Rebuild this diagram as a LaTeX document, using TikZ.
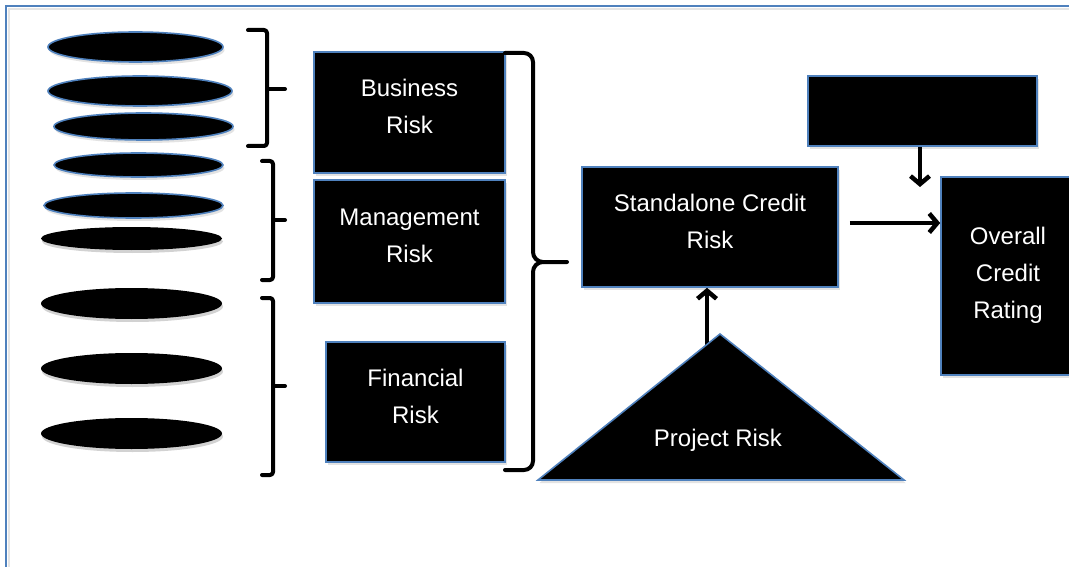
\documentclass[tikz,border=0pt]{standalone}
\usepackage{fontspec}
\setmainfont{Liberation Sans}
\usetikzlibrary{arrows.meta,shadows}
\definecolor{frameblue}{RGB}{79,129,189}
\begin{document}
\begin{tikzpicture}[x=1pt,y=-1pt,
  softshadow/.style={drop shadow={opacity=0.22, shadow xshift=1.5pt, shadow yshift=-3pt}},
  blk/.style={draw=frameblue, fill=black, line width=1.6pt, inner sep=0pt, softshadow},
  txt/.style={text=white, align=center, inner sep=0pt, font=\fontsize{24}{37}\selectfont},
  disc/.style={draw=frameblue, fill=black, line width=1.6pt, softshadow},
  plaindisc/.style={fill=black, drop shadow={opacity=0.35, shadow xshift=1pt, shadow yshift=-3pt}},
  brk/.style={line width=4pt, line cap=round, line join=round, rounded corners=3pt},
  flow/.style={line width=4.5pt, -{Straight Barb[length=8pt,width=19pt]}}
]
\clip (0,0) rectangle (1069,567);
\fill[white] (0,0) rectangle (1069,567);

% page frame
\draw[black!10, line width=2.5pt] (9,567) -- (9,9) -- (1069,9);
\draw[frameblue, line width=2pt] (6,567) -- (6,6) -- (1069,6);

% stacked discs
\path[disc] (135.5,47) ellipse [x radius=87.5, y radius=15];
\path[disc] (140,91) ellipse [x radius=92, y radius=15];
\path[disc] (143.5,126.5) ellipse [x radius=89.5, y radius=13.5];
\path[disc] (138.5,165) ellipse [x radius=84.5, y radius=12];
\path[disc] (133.5,205.5) ellipse [x radius=89.5, y radius=12.5];
\path[plaindisc] (131.5,238.5) ellipse [x radius=90.5, y radius=11.5];
\path[plaindisc] (131.5,303.5) ellipse [x radius=90.5, y radius=15.5];
\path[plaindisc] (131.5,368.5) ellipse [x radius=90.5, y radius=15.5];
\path[plaindisc] (131.5,433.5) ellipse [x radius=90.5, y radius=15.5];

% square brackets grouping the discs
\draw[brk] (248,30) -- (267,30) -- (267,146) -- (248,146);
\draw[brk] (267,89) -- (285,89);
\draw[brk] (262,161) -- (273,161) -- (273,280) -- (262,280);
\draw[brk] (273,220) -- (285,220);
\draw[brk] (262,298) -- (273,298) -- (273,475) -- (262,475);
\draw[brk] (273,386) -- (285,386);

% risk components
\node[blk, minimum width=191, minimum height=121] (bus) at (409.5,112.5) {};
\node[txt] (bus-t) at ([yshift=6pt]bus.center) {Business\\Risk};
\node[blk, minimum width=191, minimum height=123] (mgmt) at (409.5,241.5) {};
\node[txt] (mgmt-t) at ([yshift=6pt]mgmt.center) {Management\\Risk};
\node[blk, minimum width=179, minimum height=120] (fin) at (415.5,402) {};
\node[txt] (fin-t) at ([yshift=6pt]fin.center) {Financial\\Risk};

% curly brace joining the components
\draw[line width=4pt, line cap=round]
  (505,53) -- (524,53) to[out=0,in=90] (533,62) -- (533,252)
  to[out=-90,in=180] (543,262) -- (567,262);
\draw[line width=4pt, line cap=round]
  (543,262) to[out=180,in=90] (533,272) -- (533,461)
  to[out=-90,in=0] (524,470) -- (505,470);

% standalone, external and overall boxes
\node[blk, minimum width=256, minimum height=120] (sa) at (710,227) {};
\node[txt] (sa-t) at ([yshift=6pt]sa.center) {Standalone Credit\\Risk};
\node[blk, minimum width=229, minimum height=70] (ext) at (922.5,111) {};
\node[blk, minimum width=140, minimum height=198] (ocr) at (1011,276) {};
\node[txt] (ocr-t) at ([xshift=-3pt,yshift=1pt]ocr.center) {Overall\\Credit\\Rating};

% connectors
\coordinate (pin) at (707,352);
\coordinate (extin) at (920,187);
\draw[flow] (pin) -- (sa.south -| pin);
\draw[flow] (ext.south -| extin) -- (extin);
\draw[flow] (sa.east |- 849,223) ++(11,0) -- (ocr.west |- 0,223);

% project risk triangle
\path[draw=frameblue, fill=black, line width=1.6pt, line join=miter, softshadow]
  (538,480) -- (720,334) -- (904,480) -- cycle;
\node[txt] (proj) at (718,440) {Project Risk};
\end{tikzpicture}
\end{document}
